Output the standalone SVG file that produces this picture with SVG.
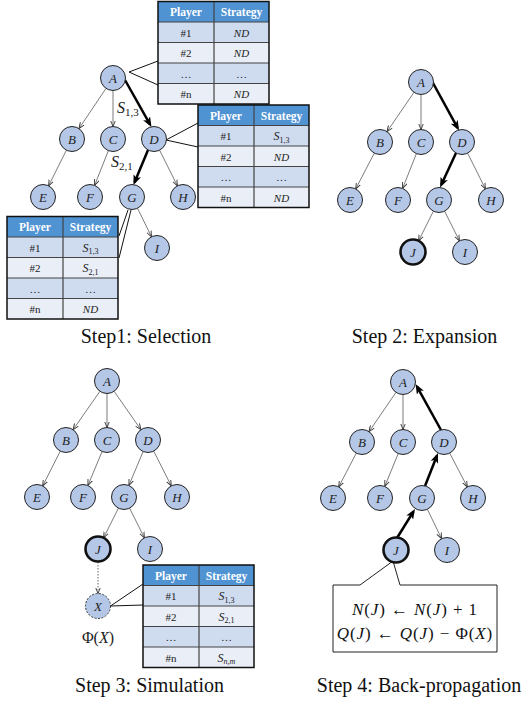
<svg xmlns="http://www.w3.org/2000/svg" width="530" height="702" viewBox="0 0 530 702">
<style>
text{font-family:'Liberation Serif','Times New Roman','DejaVu Serif',serif}
.nd{fill:#b4c7e7;stroke:#222;stroke-width:1}
.ndj{fill:#b4c7e7;stroke:#111;stroke-width:2.6}
.ndx{fill:#b4c7e7;stroke:#333;stroke-width:1;stroke-dasharray:2 1.5}
.lb{font-style:italic;font-size:13px;fill:#222;text-anchor:middle}
.th{stroke:#444;stroke-width:0.7;fill:none;marker-end:url(#ah)}
.tk{stroke:#000;stroke-width:2.5;fill:none;marker-end:url(#ahk)}
.dt{stroke:#444;stroke-width:0.8;fill:none;stroke-dasharray:1.5 1.5;marker-end:url(#ah)}
.cn{stroke:#111;stroke-width:1;fill:none}
.hd{fill:#4f93d3}
.r1{fill:#cfdbef}
.r2{fill:#e9eef7}
.gl{stroke:#444;stroke-width:1.2;fill:none}
.ob{stroke:#111;stroke-width:1.5;fill:none}
.ht{font-weight:bold;font-size:11.5px;fill:#fff;text-anchor:middle}
.ct{font-size:11px;fill:#222;text-anchor:middle}
.it{font-style:italic}
.cap{font-size:20px;fill:#111;text-anchor:middle}
.mt{font-size:17px;fill:#111;text-anchor:middle;letter-spacing:0.9px}
.el{font-size:16px;fill:#222}
</style>
<defs>
<marker id="ah" viewBox="0 0 6 6" refX="6" refY="3" markerWidth="6" markerHeight="6" markerUnits="userSpaceOnUse" orient="auto"><path d="M0,0.6 L6,3 L0,5.4" fill="none" stroke="#333" stroke-width="0.9"/></marker>
<marker id="ahk" viewBox="0 0 10 8" refX="7" refY="4" markerWidth="10" markerHeight="8" markerUnits="userSpaceOnUse" orient="auto"><path d="M0,0 L10,4 L0,8 L2.5,4 Z" fill="#000"/></marker>
<g id="tbl">
<rect class="hd" x="0" y="0" width="111" height="20.5"/>
<rect class="r1" x="0" y="20.5" width="111" height="20.5"/>
<rect class="r2" x="0" y="41" width="111" height="20.5"/>
<rect class="r1" x="0" y="61.5" width="111" height="20.5"/>
<rect class="r2" x="0" y="82" width="111" height="20.5"/>
<path class="gl" d="M0,20.5H111M0,41H111M0,61.5H111M0,82H111M56,0V102.5"/>
<rect class="ob" x="0" y="0" width="111" height="102.5"/>
<text class="ht" x="28" y="14.5">Player</text>
<text class="ht" x="83.5" y="14.5">Strategy</text>
<text class="ct" x="28" y="35">#1</text>
<text class="ct" x="28" y="55.5">#2</text>
<text class="ct" x="28" y="76">…</text>
<text class="ct" x="28" y="96.5">#n</text>
<text class="ct" x="83.5" y="76">…</text>
</g>
</defs>

<!-- Panel 1 connectors -->
<g id="p1-edges">
<line class="th" x1="106" y1="88.4" x2="79" y2="128.6"/>
<line class="th" x1="113" y1="90.5" x2="113" y2="126.5"/>
<line class="tk" x1="125" y1="80" x2="150" y2="124.4"/>
<line class="th" x1="66.4" y1="150.2" x2="48.6" y2="185.8"/>
<line class="th" x1="108.4" y1="150.6" x2="94.6" y2="185.4"/>
<line class="tk" x1="148" y1="150" x2="134.6" y2="182.2"/>
<line class="th" x1="159.6" y1="150.2" x2="177.4" y2="185.8"/>
<line class="th" x1="137.5" y1="208.2" x2="151.5" y2="236.8"/>
<path class="cn" d="M158,61 L129,72 L158,85"/>
<path class="cn" d="M198,123 L166,140 L198,147"/>
<path class="cn" d="M119,236 L128,210 M119,258 L131,210"/>
<text class="el" x="117" y="113"><tspan class="it">S</tspan><tspan font-size="11" dy="3">1,3</tspan></text>
<text class="el" x="111" y="167"><tspan class="it">S</tspan><tspan font-size="11" dy="3">2,1</tspan></text>
</g>
<g id="p1-A"><circle class="nd" cx="113" cy="78" r="12.5"/><text class="lb" x="113" y="82.5">A</text></g>
<g id="p1-B"><circle class="nd" cx="72" cy="139" r="12.5"/><text class="lb" x="72" y="143.5">B</text></g>
<g id="p1-C"><circle class="nd" cx="113" cy="139" r="12.5"/><text class="lb" x="113" y="143.5">C</text></g>
<g id="p1-D"><circle class="nd" cx="154" cy="139" r="12.5"/><text class="lb" x="154" y="143.5">D</text></g>
<g id="p1-E"><circle class="nd" cx="43" cy="197" r="12.5"/><text class="lb" x="43" y="201.5">E</text></g>
<g id="p1-F"><circle class="nd" cx="90" cy="197" r="12.5"/><text class="lb" x="90" y="201.5">F</text></g>
<g id="p1-G"><circle class="nd" cx="132" cy="197" r="12.5"/><text class="lb" x="132" y="201.5">G</text></g>
<g id="p1-H"><circle class="nd" cx="183" cy="197" r="12.5"/><text class="lb" x="183" y="201.5">H</text></g>
<g id="p1-I"><circle class="nd" cx="157" cy="248" r="12.5"/><text class="lb" x="157" y="252.5">I</text></g>
<g id="p1-tableA" transform="translate(158,1.5)"><use href="#tbl"/>
<text class="ct it" x="83.5" y="35">ND</text><text class="ct it" x="83.5" y="55.5">ND</text><text class="ct it" x="83.5" y="96.5">ND</text></g>
<g id="p1-tableD" transform="translate(198,105)"><use href="#tbl"/>
<text class="ct" x="83.5" y="35"><tspan class="it" font-size="12">S</tspan><tspan font-size="8" dy="2.5">1,3</tspan></text><text class="ct it" x="83.5" y="55.5">ND</text><text class="ct it" x="83.5" y="96.5">ND</text></g>
<g id="p1-tableG" transform="translate(7,216.5)"><use href="#tbl"/>
<text class="ct" x="83.5" y="35"><tspan class="it" font-size="12">S</tspan><tspan font-size="8" dy="2.5">1,3</tspan></text><text class="ct" x="83.5" y="55.5"><tspan class="it" font-size="12">S</tspan><tspan font-size="8" dy="2.5">2,1</tspan></text><text class="ct it" x="83.5" y="96.5">ND</text></g>
<text id="cap1" class="cap" x="146" y="343">Step1: Selection</text>

<!-- Panel 2 -->
<g id="p2-edges">
<line class="th" x1="414" y1="92.3" x2="387" y2="131.7"/>
<line class="th" x1="421" y1="94.5" x2="421" y2="129.5"/>
<line class="tk" x1="433" y1="83" x2="457.6" y2="127.9"/>
<line class="th" x1="374.3" y1="153.1" x2="355.7" y2="188.9"/>
<line class="th" x1="416.4" y1="153.6" x2="402.6" y2="188.4"/>
<line class="tk" x1="456" y1="153" x2="441.3" y2="184.8"/>
<line class="th" x1="467.6" y1="153.2" x2="485.4" y2="188.8"/>
<line class="th" x1="433.4" y1="211.2" x2="418.6" y2="240.8"/>
<line class="th" x1="444.6" y1="211.2" x2="459.4" y2="240.8"/>
</g>
<g id="p2-A"><circle class="nd" cx="421" cy="82" r="12.5"/><text class="lb" x="421" y="86.5">A</text></g>
<g id="p2-B"><circle class="nd" cx="380" cy="142" r="12.5"/><text class="lb" x="380" y="146.5">B</text></g>
<g id="p2-C"><circle class="nd" cx="421" cy="142" r="12.5"/><text class="lb" x="421" y="146.5">C</text></g>
<g id="p2-D"><circle class="nd" cx="462" cy="142" r="12.5"/><text class="lb" x="462" y="146.5">D</text></g>
<g id="p2-E"><circle class="nd" cx="350" cy="200" r="12.5"/><text class="lb" x="350" y="204.5">E</text></g>
<g id="p2-F"><circle class="nd" cx="398" cy="200" r="12.5"/><text class="lb" x="398" y="204.5">F</text></g>
<g id="p2-G"><circle class="nd" cx="439" cy="200" r="12.5"/><text class="lb" x="439" y="204.5">G</text></g>
<g id="p2-H"><circle class="nd" cx="491" cy="200" r="12.5"/><text class="lb" x="491" y="204.5">H</text></g>
<g id="p2-J"><circle class="ndj" cx="413" cy="252" r="12.5"/><text class="lb" x="413" y="256.5">J</text></g>
<g id="p2-I"><circle class="nd" cx="465" cy="252" r="12.5"/><text class="lb" x="465" y="256.5">I</text></g>
<text id="cap2" class="cap" x="424.5" y="343">Step 2: Expansion</text>

<!-- Panel 3 -->
<g id="p3-edges">
<line class="th" x1="99.9" y1="391.3" x2="73.1" y2="429.7"/>
<line class="th" x1="107" y1="393.5" x2="107" y2="427.5"/>
<line class="th" x1="114.1" y1="391.3" x2="140.9" y2="429.7"/>
<line class="th" x1="60.3" y1="451.1" x2="42.7" y2="485.9"/>
<line class="th" x1="102.1" y1="451.5" x2="87.9" y2="485.5"/>
<line class="th" x1="143.1" y1="451.5" x2="128.9" y2="485.5"/>
<line class="th" x1="153.7" y1="451.1" x2="171.3" y2="485.9"/>
<line class="th" x1="118.4" y1="508.2" x2="103.6" y2="537.8"/>
<line class="th" x1="129.6" y1="508.2" x2="144.4" y2="537.8"/>
<line class="dt" x1="98" y1="562" x2="98" y2="593.5"/>
<path class="cn" d="M143,584 L110.5,606 L143,605"/>
</g>
<g id="p3-A"><circle class="nd" cx="107" cy="381" r="12.5"/><text class="lb" x="107" y="385.5">A</text></g>
<g id="p3-B"><circle class="nd" cx="66" cy="440" r="12.5"/><text class="lb" x="66" y="444.5">B</text></g>
<g id="p3-C"><circle class="nd" cx="107" cy="440" r="12.5"/><text class="lb" x="107" y="444.5">C</text></g>
<g id="p3-D"><circle class="nd" cx="148" cy="440" r="12.5"/><text class="lb" x="148" y="444.5">D</text></g>
<g id="p3-E"><circle class="nd" cx="37" cy="497" r="12.5"/><text class="lb" x="37" y="501.5">E</text></g>
<g id="p3-F"><circle class="nd" cx="83" cy="497" r="12.5"/><text class="lb" x="83" y="501.5">F</text></g>
<g id="p3-G"><circle class="nd" cx="124" cy="497" r="12.5"/><text class="lb" x="124" y="501.5">G</text></g>
<g id="p3-H"><circle class="nd" cx="177" cy="497" r="12.5"/><text class="lb" x="177" y="501.5">H</text></g>
<g id="p3-J"><circle class="ndj" cx="98" cy="549" r="12.5"/><text class="lb" x="98" y="553.5">J</text></g>
<g id="p3-I"><circle class="nd" cx="150" cy="549" r="12.5"/><text class="lb" x="150" y="553.5">I</text></g>
<g id="p3-X"><circle class="ndx" cx="98" cy="606" r="12.5"/><text class="lb" x="98" y="610.5">X</text></g>
<text id="p3-phi" class="el" x="98" y="643" text-anchor="middle" font-size="15">Φ(<tspan class="it">X</tspan>)</text>
<g id="p3-table" transform="translate(143,565)"><use href="#tbl"/>
<text class="ct" x="83.5" y="35"><tspan class="it" font-size="12">S</tspan><tspan font-size="8" dy="2.5">1,3</tspan></text><text class="ct" x="83.5" y="55.5"><tspan class="it" font-size="12">S</tspan><tspan font-size="8" dy="2.5">2,1</tspan></text><text class="ct" x="83.5" y="96.5"><tspan class="it" font-size="12">S</tspan><tspan class="it" font-size="8" dy="2.5">n,m</tspan></text></g>
<text id="cap3" class="cap" x="149.5" y="692">Step 3: Simulation</text>

<!-- Panel 4 -->
<g id="p4-edges">
<line class="th" x1="396" y1="392.3" x2="369" y2="431.7"/>
<line class="th" x1="403" y1="394.5" x2="403" y2="429.5"/>
<line class="tk" x1="441" y1="430" x2="417" y2="386.6"/>
<line class="th" x1="356.3" y1="453.1" x2="338.7" y2="486.9"/>
<line class="th" x1="398.2" y1="453.6" x2="384.8" y2="486.4"/>
<line class="tk" x1="425" y1="486" x2="436.9" y2="455.8"/>
<line class="th" x1="449.7" y1="453.1" x2="467.3" y2="486.9"/>
<line class="tk" x1="397" y1="538" x2="413.4" y2="511.6"/>
<line class="th" x1="427.4" y1="509.3" x2="441.6" y2="538.7"/>
</g>
<g id="p4-box">
<path d="M333,585 H360 L393,561 L400,585 H497 V652 H333 Z" fill="#fff" stroke="#222" stroke-width="1"/>
<text class="mt" x="415" y="615"><tspan class="it">N</tspan>(<tspan class="it">J</tspan>) ← <tspan class="it">N</tspan>(<tspan class="it">J</tspan>) + 1</text>
<text class="mt" x="415" y="639"><tspan class="it">Q</tspan>(<tspan class="it">J</tspan>) ← <tspan class="it">Q</tspan>(<tspan class="it">J</tspan>) − Φ(<tspan class="it">X</tspan>)</text>
</g>
<g id="p4-A"><circle class="nd" cx="403" cy="382" r="12.5"/><text class="lb" x="403" y="386.5">A</text></g>
<g id="p4-B"><circle class="nd" cx="362" cy="442" r="12.5"/><text class="lb" x="362" y="446.5">B</text></g>
<g id="p4-C"><circle class="nd" cx="403" cy="442" r="12.5"/><text class="lb" x="403" y="446.5">C</text></g>
<g id="p4-D"><circle class="nd" cx="444" cy="442" r="12.5"/><text class="lb" x="444" y="446.5">D</text></g>
<g id="p4-E"><circle class="nd" cx="333" cy="498" r="12.5"/><text class="lb" x="333" y="502.5">E</text></g>
<g id="p4-F"><circle class="nd" cx="380" cy="498" r="12.5"/><text class="lb" x="380" y="502.5">F</text></g>
<g id="p4-G"><circle class="nd" cx="422" cy="498" r="12.5"/><text class="lb" x="422" y="502.5">G</text></g>
<g id="p4-H"><circle class="nd" cx="473" cy="498" r="12.5"/><text class="lb" x="473" y="502.5">H</text></g>
<g id="p4-J"><circle class="ndj" cx="396" cy="550" r="12.5"/><text class="lb" x="396" y="554.5">J</text></g>
<g id="p4-I"><circle class="nd" cx="447" cy="550" r="12.5"/><text class="lb" x="447" y="554.5">I</text></g>
<text id="cap4" class="cap" x="419" y="692">Step 4: Back-propagation</text>
</svg>
